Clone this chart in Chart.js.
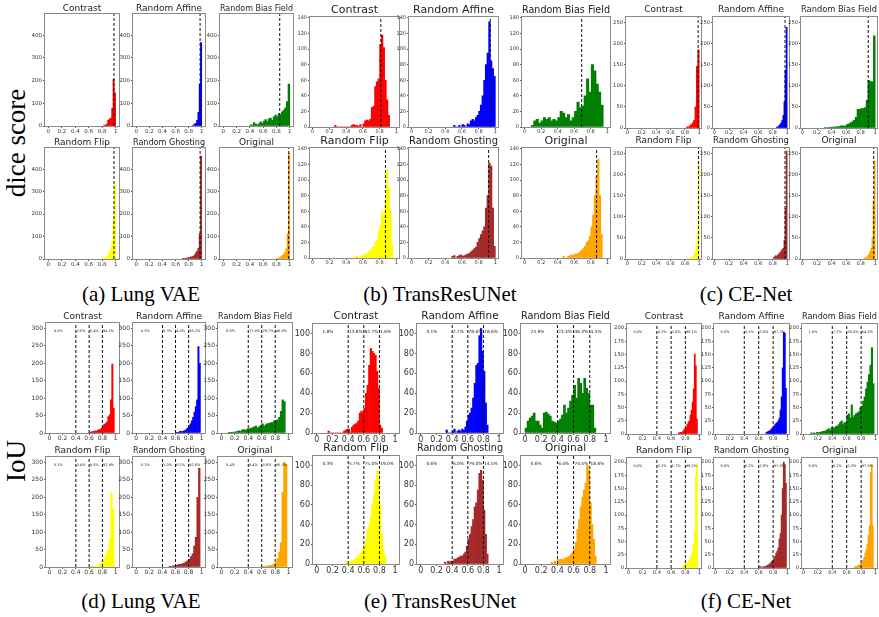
<!DOCTYPE html>
<html>
<head>
<meta charset="utf-8">
<script src="https://cdn.jsdelivr.net/npm/chart.js@4.4.1/dist/chart.umd.min.js"></script>
<style>
  html, body { margin: 0; padding: 0; background: #fff; }
  #fig { position: relative; width: 879px; height: 617px; overflow: hidden; background: #fff; }
  #fig canvas { position: absolute; }
  .cap { position: absolute; font-family: "Liberation Serif", "DejaVu Serif", serif; font-size: 21px; color: #000; white-space: nowrap; transform: translate(-50%, -50%); }
  .side { position: absolute; font-family: "Liberation Serif", "DejaVu Serif", serif; font-size: 27px; color: #000; white-space: nowrap; transform: translate(-50%, -50%) rotate(-90deg); }
</style>
</head>
<body>
<div id="fig">
  <div class="side" style="left:16px;top:143px">dice score</div>
  <div class="side" style="left:16px;top:461px">IoU</div>
  <div class="cap" style="left:141px;top:294px">(a) Lung VAE</div>
  <div class="cap" style="left:440px;top:294px">(b) TransResUNet</div>
  <div class="cap" style="left:746px;top:294px">(c) CE-Net</div>
  <div class="cap" style="left:141px;top:601px">(d) Lung VAE</div>
  <div class="cap" style="left:440px;top:601px">(e) TransResUNet</div>
  <div class="cap" style="left:746px;top:601px">(f) CE-Net</div>
</div>
<script>
Chart.defaults.font.family = '"DejaVu Sans", sans-serif';
Chart.defaults.color = '#333';

// same six subplots in every group
const panelTitles = ['Contrast', 'Random Affine', 'Random Bias Field', 'Random Flip', 'Random Ghosting', 'Original'];
const panelColors = ['#ff0000', '#0000ff', '#008000', '#ffff00', '#a52a2a', '#ffa500'];
const xTickValues = [0, 0.2, 0.4, 0.6, 0.8, 1];
const iouCuts = [0.4, 0.6, 0.8];
const shareAt = [0.07, 0.41, 0.61, 0.81];

// (a) Lung VAE - dice score
const lungDiceYTicks = [0, 100, 200, 300, 400];
const lungDiceMean = [0.975, 0.975, 0.85, 0.975, 0.975, 0.985];
const lungDiceStart = [0.82, 0.86, 0.4, 0.8, 0.7, 0.8];
const lungDiceBin = [0.02, 0.02, 0.025, 0.02, 0.02, 0.02];
const lungDiceCounts = [
  [3, 5, 8, 25, 30, 35, 78, 206, 146],
  [3, 8, 12, 25, 60, 185, 368],
  [5, 4, 15, 8, 6, 10, 18, 12, 22, 28, 20, 32, 35, 25, 40, 48, 42, 55, 50, 62, 70, 80, 108, 185],
  [2, 3, 5, 8, 15, 30, 45, 75, 180, 330],
  [3, 2, 3, 4, 5, 6, 8, 10, 12, 18, 28, 35, 48, 113, 458],
  [2, 4, 6, 10, 15, 22, 30, 45, 113, 470]
];

// (b) TransResUNet - dice score
const transDiceYTicks = [0, 20, 40, 60, 80, 100, 120, 140];
const transDiceMean = [0.815, 0.94, 0.69, 0.87, 0.92, 0.87];
const transDiceStart = [0.26, 0.5, 0.08, 0.5, 0.48, 0.46];
const transDiceBin = [0.02, 0.02, 0.029, 0.02, 0.02, 0.02];
const transDiceCounts = [
  [2, 0, 0, 0, 0, 0, 0, 0, 0, 0, 2, 3, 2, 2, 1, 3, 0, 4, 8, 9, 8, 10, 25, 27, 52, 58, 62, 106, 118, 102, 60, 35, 15],
  [2, 0, 0, 2, 0, 3, 2, 0, 4, 3, 8, 10, 8, 12, 15, 20, 28, 40, 60, 80, 95, 135, 85, 75, 65],
  [2, 8, 10, 5, 8, 12, 10, 12, 8, 10, 8, 12, 20, 18, 12, 16, 8, 12, 20, 32, 25, 27, 40, 62, 45, 80, 72, 55, 45, 28],
  [2, 3, 0, 2, 3, 4, 4, 5, 8, 10, 12, 15, 20, 22, 35, 42, 60, 55, 75, 113, 90, 60, 18],
  [2, 3, 0, 2, 3, 4, 2, 3, 4, 5, 6, 8, 10, 12, 14, 20, 25, 30, 35, 40, 64, 80, 122, 118, 64, 15],
  [2, 0, 0, 2, 3, 4, 3, 5, 5, 6, 8, 10, 12, 15, 20, 22, 28, 40, 55, 80, 105, 127, 80, 30]
];

// (c) CE-Net - dice score
const ceDiceYTicks = [0, 50, 100, 150, 200, 250];
const ceDiceMean = [0.985, 0.97, 0.905, 0.99, 0.97, 0.98];
const ceDiceStart = [0.82, 0.85, 0.3, 0.85, 0.805, 0.85];
const ceDiceBin = [0.02, 0.015, 0.025, 0.015, 0.015, 0.015];
const ceDiceCounts = [
  [2, 3, 5, 8, 12, 18, 50, 145, 185],
  [2, 3, 5, 8, 12, 18, 30, 62, 137, 238],
  [1, 0, 1, 1, 2, 2, 3, 3, 4, 5, 5, 4, 8, 10, 12, 15, 18, 25, 44, 44, 46, 46, 48, 66, 113, 110, 110, 218],
  [1, 2, 3, 5, 8, 12, 18, 28, 60, 228],
  [3, 5, 8, 6, 10, 12, 15, 18, 22, 25, 45, 120, 255],
  [2, 3, 5, 8, 12, 18, 25, 50, 138, 232]
];

// (d) Lung VAE - IoU
const lungIouYTicks = [0, 50, 100, 150, 200, 250, 300];
const lungIouStart = [0.6, 0.6, 0.1, 0.6, 0.5, 0.6];
const lungIouBin = [0.02, 0.02, 0.025, 0.025, 0.025, 0.025];
const lungIouCounts = [
  [3, 3, 4, 5, 6, 5, 8, 10, 10, 15, 20, 25, 28, 32, 47, 52, 95, 198, 71],
  [2, 1, 2, 5, 5, 4, 6, 8, 12, 14, 20, 26, 35, 45, 60, 76, 95, 248, 200],
  [1, 2, 2, 3, 3, 5, 6, 5, 9, 10, 8, 12, 12, 14, 15, 18, 20, 15, 18, 22, 26, 20, 24, 27, 28, 30, 30, 34, 36, 38, 45, 62, 95, 90],
  [2, 2, 3, 3, 4, 5, 8, 12, 20, 28, 40, 48, 82, 213, 166],
  [2, 2, 3, 4, 5, 6, 8, 8, 10, 12, 15, 18, 22, 30, 38, 60, 85, 200, 283],
  [2, 2, 3, 3, 4, 5, 6, 10, 12, 25, 43, 70, 215, 300, 295]
];
const lungIouShares = [
  ['0.0%', '0.5%', '5.4%', '94.1%'],
  ['0.3%', '0.3%', '4.3%', '95.2%'],
  ['6.6%', '17.9%', '28.7%', '46.8%'],
  ['0.1%', '0.4%', '6.5%', '92.9%'],
  ['0.1%', '1.0%', '6.1%', '92.8%'],
  ['0.4%', '0.4%', '3.8%', '95.3%']
];

// (e) TransResUNet - IoU
const transIouYTicks = [0, 20, 40, 60, 80, 100];
const transIouStart = [0.14, 0.32, 0.0, 0.36, 0.3, 0.32];
const transIouBin = [0.02, 0.02, 0.025, 0.02, 0.02, 0.02];
const transIouCounts = [
  [2, 0, 0, 0, 0, 0, 0, 0, 0, 0, 2, 3, 4, 4, 1, 6, 8, 9, 10, 12, 20, 22, 20, 25, 40, 48, 68, 85, 82, 80, 78, 62, 45, 8, 5],
  [3, 0, 0, 0, 2, 4, 0, 2, 3, 2, 4, 3, 6, 12, 18, 20, 25, 35, 50, 68, 70, 98, 105, 82, 62, 30, 8],
  [5, 12, 15, 17, 20, 12, 12, 8, 5, 20, 21, 19, 17, 12, 11, 10, 12, 14, 18, 28, 20, 25, 32, 38, 48, 35, 55, 50, 40, 55, 45, 40, 28, 28, 5],
  [2, 0, 3, 2, 3, 4, 5, 6, 8, 10, 12, 15, 20, 25, 35, 40, 48, 60, 70, 85, 95, 88, 60, 30, 15, 8],
  [2, 0, 3, 2, 3, 3, 5, 5, 6, 7, 8, 8, 10, 12, 18, 25, 30, 38, 45, 58, 62, 75, 92, 95, 85, 55, 30, 10],
  [2, 0, 3, 0, 5, 4, 5, 4, 6, 6, 7, 8, 10, 12, 15, 22, 35, 45, 58, 68, 75, 82, 100, 95, 62, 40, 25, 8]
];
const transIouShares = [
  ['1.8%', '13.8%', '82.7%', '1.6%'],
  ['0.1%', '2.7%', '78.6%', '18.6%'],
  ['25.9%', '23.3%', '46.3%', '4.5%'],
  ['0.3%', '5.7%', '75.0%', '19.0%'],
  ['0.6%', '6.0%', '79.0%', '14.5%'],
  ['0.6%', '6.4%', '74.4%', '18.6%']
];

// (f) CE-Net - IoU
const ceIouYTicks = [0, 25, 50, 75, 100, 125, 150, 175, 200];
const ceIouStart = [0.7, 0.7, 0.1, 0.76, 0.61, 0.7];
const ceIouBin = [0.015, 0.015, 0.02, 0.015, 0.015, 0.015];
const ceIouCounts = [
  [2, 2, 3, 3, 5, 8, 10, 12, 18, 22, 25, 35, 45, 60, 85, 151, 129, 28],
  [3, 4, 5, 6, 8, 10, 12, 15, 18, 20, 22, 25, 30, 45, 70, 125, 192, 190, 86],
  [2, 1, 2, 1, 3, 2, 3, 4, 5, 5, 6, 8, 10, 7, 12, 10, 12, 14, 15, 18, 22, 25, 18, 22, 20, 35, 38, 30, 55, 32, 35, 38, 40, 42, 50, 52, 62, 70, 85, 98, 112, 130, 163, 95],
  [3, 5, 6, 8, 10, 12, 15, 18, 25, 32, 45, 70, 175, 197],
  [3, 0, 2, 0, 3, 2, 4, 5, 6, 8, 10, 12, 15, 18, 22, 28, 32, 38, 55, 65, 100, 150, 200, 195, 160],
  [2, 3, 3, 4, 5, 6, 8, 10, 15, 20, 28, 35, 45, 62, 80, 180, 195, 80]
];
const ceIouShares = [
  ['0.0%', '0.2%', '3.8%', '96.1%'],
  ['0.0%', '0.1%', '2.6%', '97.3%'],
  ['1.6%', '7.2%', '26.6%', '64.6%'],
  ['0.0%', '0.1%', '1.7%', '98.2%'],
  ['0.0%', '0.2%', '2.8%', '97.0%'],
  ['0.0%', '0.1%', '2.3%', '97.6%']
];

// where each group sits on the page (plot box edges in px)
const groups = [
  {cols: [[45, 119], [133, 205], [220, 293]], rows: [[14, 126], [148, 259]], xRange: [-0.05, 1.05], yMax: 495,
   yTicks: lungDiceYTicks, start: lungDiceStart, bin: lungDiceBin, counts: lungDiceCounts, marks: lungDiceMean,
   titleSize: 9, titlePad: 0, tickSize: 5.5, yw: 20, xh: 12},
  {cols: [[310, 399], [409, 498], [522, 610]], rows: [[17, 127], [148, 258]], xRange: [-0.032, 1.032], yMax: 141,
   yTicks: transDiceYTicks, start: transDiceStart, bin: transDiceBin, counts: transDiceCounts, marks: transDiceMean,
   titleSize: 11, titlePad: 0, tickSize: 5, yw: 20, xh: 12},
  {cols: [[626, 701], [713, 789], [801, 877]], rows: [[17, 128], [148, 259]], xRange: [-0.02, 1.025], yMax: 263,
   yTicks: ceDiceYTicks, start: ceDiceStart, bin: ceDiceBin, counts: ceDiceCounts, marks: ceDiceMean,
   titleSize: 9, titlePad: 2, tickSize: 5.2, yw: 20, xh: 12},
  {cols: [[46, 119], [133, 205], [218, 292]], rows: [[323, 433], [457, 567]], xRange: [-0.05, 1.05], yMax: 315,
   yTicks: lungIouYTicks, start: lungIouStart, bin: lungIouBin, counts: lungIouCounts, shares: lungIouShares,
   titleSize: 9, titlePad: 1.5, tickSize: 6, yw: 20, xh: 12, shareSize: 3.5},
  {cols: [[313, 399], [417, 503], [521, 610]], rows: [[324, 433], [456, 564]], xRange: [-0.05, 1.05], yMax: 110,
   yTicks: transIouYTicks, start: transIouStart, bin: transIouBin, counts: transIouCounts, shares: transIouShares,
   titleSize: 10.5, titlePad: 1, tickSize: 8, yw: 24, xh: 14, shareSize: 4.3},
  {cols: [[627, 701], [714, 789], [802, 877]], rows: [[324, 434], [458, 568]], xRange: [-0.02, 1.02], yMax: 207,
   yTicks: ceIouYTicks, start: ceIouStart, bin: ceIouBin, counts: ceIouCounts, shares: ceIouShares,
   titleSize: 9, titlePad: 2.5, tickSize: 5.2, yw: 20, xh: 12, shareSize: 3.5}
];

// box round the plot area, like matplotlib spines
const framePlugin = {
  id: 'frame',
  afterDraw(chart) {
    const {ctx, chartArea: a} = chart;
    ctx.save();
    ctx.strokeStyle = '#8a8a8a';
    ctx.lineWidth = 1;
    ctx.strokeRect(Math.round(a.left) - 0.5, Math.round(a.top) - 0.5, Math.round(a.right - a.left) + 1, Math.round(a.bottom - a.top) + 1);
    ctx.restore();
  }
};

// small percentage labels in the IoU panels
const sharesPlugin = {
  id: 'shares',
  afterDatasetsDraw(chart, args, opts) {
    if (!opts.labels) return;
    const {ctx, scales: {x, y}} = chart;
    ctx.save();
    ctx.font = opts.size + 'px "DejaVu Sans"';
    ctx.fillStyle = '#222';
    ctx.textAlign = 'left';
    ctx.textBaseline = 'middle';
    opts.labels.forEach((t, i) => ctx.fillText(t, x.getPixelForValue(shareAt[i]), y.getPixelForValue(opts.level)));
    ctx.restore();
  }
};

const fig = document.getElementById('fig');

function drawPanel(g, k) {
  const col = k % 3, row = Math.floor(k / 3);
  const [l, r] = g.cols[col];
  const [t, b] = g.rows[row];
  const titleH = g.titleSize * 1.2 + g.titlePad;
  const padR = 6;
  const cv = document.createElement('canvas');
  cv.width = Math.round(r - l + g.yw + padR);
  cv.height = Math.round(b - t + titleH + g.xh);
  cv.style.left = (l - g.yw) + 'px';
  cv.style.top = Math.round(t - titleH) + 'px';
  fig.appendChild(cv);

  const bins = g.counts[k].map((c, i) => ({x: g.start[k] + (i + 0.5) * g.bin[k], y: c}));
  const datasets = [{
    type: 'bar', data: bins, backgroundColor: panelColors[k], borderWidth: 0,
    barPercentage: 1, categoryPercentage: 1, order: 1
  }];
  const lines = g.marks ? [g.marks[k]] : iouCuts;
  lines.forEach(v => datasets.push({
    type: 'line', data: [{x: v, y: 0}, {x: v, y: g.yMax}], borderColor: '#111', borderWidth: 1,
    borderDash: [3, 2], pointRadius: 0, fill: false, order: 0
  }));

  const tickGrid = {display: true, drawOnChartArea: false, drawTicks: true, tickLength: 2, color: '#555', offset: false};

  new Chart(cv, {
    type: 'bar',
    data: {datasets},
    options: {
      responsive: false, animation: false, events: [], devicePixelRatio: 1,
      layout: {padding: {left: 0, top: 0, right: padR, bottom: 0}},
      plugins: {
        legend: {display: false},
        tooltip: {enabled: false},
        title: {display: true, text: panelTitles[k], fullSize: false, color: '#222',
                font: {size: g.titleSize, weight: 'normal'}, padding: {top: 0, bottom: g.titlePad}},
        shares: g.shares ? {labels: g.shares[k], size: g.shareSize, level: g.yMax * 0.925} : {}
      },
      scales: {
        x: {
          type: 'linear', min: g.xRange[0], max: g.xRange[1], offset: false,
          afterBuildTicks: s => { s.ticks = xTickValues.map(v => ({value: v})); },
          afterFit: s => { s.height = g.xh; s.paddingLeft = 0; s.paddingRight = 0; },
          ticks: {autoSkip: false, maxRotation: 0, minRotation: 0, padding: 0, font: {size: g.tickSize},
                  callback: v => String(+Number(v).toFixed(1))},
          grid: tickGrid,
          border: {display: false}
        },
        y: {
          type: 'linear', min: 0, max: g.yMax,
          afterBuildTicks: s => { s.ticks = g.yTicks.map(v => ({value: v})); },
          afterFit: s => { s.width = g.yw; s.paddingTop = 0; s.paddingBottom = 0; },
          ticks: {autoSkip: false, padding: 1, font: {size: g.tickSize}, callback: v => String(v)},
          grid: tickGrid,
          border: {display: false}
        }
      }
    },
    plugins: [framePlugin, sharesPlugin]
  });
}

groups.forEach(g => { for (let k = 0; k < 6; k++) drawPanel(g, k); });
</script>
</body>
</html>
